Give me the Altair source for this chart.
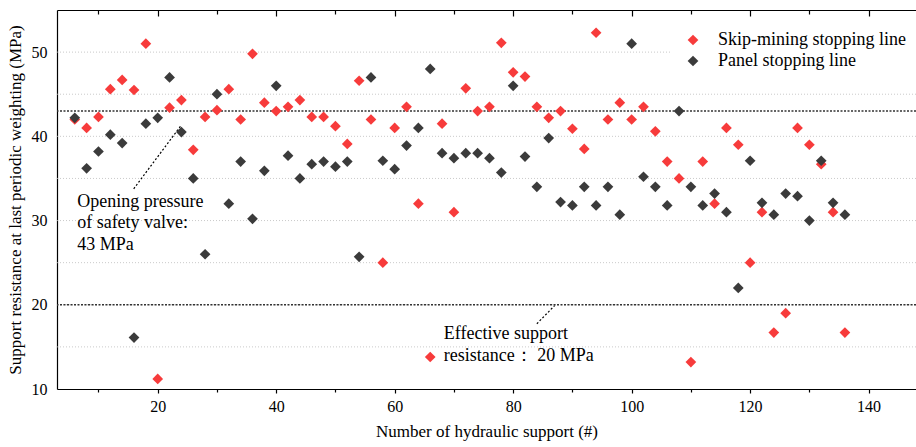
import altair as alt
import pandas as pd

# ---------------- data ----------------
support_no = list(range(6, 137, 2))
skip_mining = [42.0, 41.0, 42.3, 45.6, 46.7, 45.5, 51.0, 11.2, 43.4, 44.3,
               38.4, 42.3, 43.1, 45.6, 42.0, 49.8, 44.0, 43.0, 43.5, 44.3,
               42.3, 42.3, 41.2, 39.1, 46.6, 42.0, 25.0, 41.0, 43.5, 32.0,
               13.8, 41.5, 31.0, 45.7, 43.0, 43.5, 51.1, 47.6, 47.1, 43.5,
               42.2, 43.0, 40.9, 38.5, 52.3, 42.0, 44.0, 42.0, 43.5, 40.6,
               37.0, 35.0, 13.2, 37.0, 32.0, 41.0, 39.0, 25.0, 31.0, 16.7,
               19.0, 41.0, 39.0, 36.7, 31.0, 16.7]
panel = [42.2, 36.2, 38.2, 40.2, 39.2, 16.1, 41.5, 42.2, 47.0, 40.5,
         35.0, 26.0, 45.0, 32.0, 37.0, 30.2, 35.9, 46.0, 37.7, 35.0,
         36.7, 37.0, 36.4, 37.0, 25.7, 47.0, 37.1, 36.1, 38.9, 41.0,
         48.0, 38.0, 37.4, 38.0, 38.0, 37.4, 35.7, 46.0, 37.6, 34.0,
         39.8, 32.2, 31.8, 34.0, 31.8, 34.0, 30.7, 51.0, 35.2, 34.0,
         31.8, 43.0, 34.0, 31.8, 33.2, 31.0, 22.0, 37.1, 32.1, 30.7,
         33.2, 32.9, 30.0, 37.1, 32.1, 30.7]
series_names = ["Skip-mining stopping line", "Panel stopping line"]
series_colors = ["#F73B3B", "#3B3B3B"]

ref_levels = [43, 20]
grid_levels = [15, 20, 25, 30, 35, 40, 45, 50]
x_major = [20, 40, 60, 80, 100, 120, 140]
x_minor = [10, 30, 50, 70, 90, 110, 130]
y_major = [10, 20, 30, 40, 50]

ann_text = ["Opening pressure", "of safety valve:", "43 MPa",
            "Effective support", "resistance\uff1a  20 MPa"]
ann_x = [6.4, 6.4, 6.4, 68.3, 68.3]
ann_y = [31.64, 29.15, 26.55, 15.93, 13.28]

ptr_x = [15.95, 84.0]
ptr_x2 = [23.9, 87.0]
ptr_y = [33.77, 17.75]
ptr_y2 = [41.25, 19.9]

# ---------------- tables ----------------
pts = pd.DataFrame({
    "support": support_no + support_no,
    "value": skip_mining + panel,
    "series": [series_names[0]] * len(support_no) + [series_names[1]] * len(support_no),
})
grid_df = pd.DataFrame({"y": grid_levels})
ref_df = pd.DataFrame({"y": ref_levels})
ann_df = pd.DataFrame({"t": ann_text, "x": ann_x, "y": ann_y})
ptr_df = pd.DataFrame({"x": ptr_x, "x2": ptr_x2, "y": ptr_y, "y2": ptr_y2})

FONT = "'Liberation Serif', 'Times New Roman', Times, serif"
W, H = 859, 379
xs = alt.Scale(domain=[3, 148], nice=False, zero=False)
ys = alt.Scale(domain=[10, 55], nice=False, zero=False)

grid = alt.Chart(grid_df).mark_rule(color="#BDBDBD", strokeWidth=0.8, strokeDash=[1, 2]).encode(
    y=alt.Y("y:Q", scale=ys, axis=None))
refs = alt.Chart(ref_df).mark_rule(color="#333333", strokeWidth=1.4, strokeDash=[2, 1.5]).encode(
    y=alt.Y("y:Q", scale=ys, axis=None))

points = alt.Chart(pts).mark_point(shape="diamond", filled=True, size=115, opacity=1).encode(
    x=alt.X("support:Q", scale=xs, axis=alt.Axis(
        orient="bottom", values=x_major, format="d", labelFont=FONT, labelFontSize=16,
        labelColor="black", tickSize=4, tickColor="black", tickWidth=1.2, domainColor="black",
        domainWidth=1.2, labelPadding=5, grid=False, title="Number of hydraulic support (#)",
        titleFont=FONT, titleFontSize=17, titleFontWeight="normal", titleColor="black",
        titlePadding=9)),
    y=alt.Y("value:Q", scale=ys, axis=alt.Axis(
        orient="left", values=y_major, format="d", labelFont=FONT, labelFontSize=16,
        labelColor="black", ticks=False, labelPadding=10, domainColor="black", domainWidth=1.2,
        grid=False, title="Support resistance at last periodic weighting (MPa)", titleFont=FONT,
        titleFontSize=17, titleFontWeight="normal", titleColor="black", titlePadding=7)),
    color=alt.Color("series:N", scale=alt.Scale(domain=series_names, range=series_colors),
                    legend=alt.Legend(orient="none", legendX=615, legendY=9, title=None,
                                      fillColor="white", padding=12, symbolType="diamond",
                                      symbolSize=115, symbolStrokeWidth=0, labelFont=FONT,
                                      labelFontSize=18, labelColor="black", labelOffset=16,
                                      labelLimit=400, rowPadding=3)),
)


def axis_layer(axis):
    return alt.Chart(pts).mark_point(opacity=0).encode(
        x=alt.X("support:Q", scale=xs, axis=axis),
        y=alt.Y("value:Q", scale=ys, axis=None))


bottom_minor = axis_layer(alt.Axis(orient="bottom", values=x_minor, labels=False, tickSize=3,
                                   tickColor="black", tickWidth=1.2, domain=False, grid=False,
                                   title=None))
top_major = axis_layer(alt.Axis(orient="bottom", offset=-H, values=x_major, labels=False,
                                tickSize=6, tickColor="black", tickWidth=1.2, domainColor="black",
                                domainWidth=1.2, grid=False, title=None))
top_minor = axis_layer(alt.Axis(orient="bottom", offset=-H, values=x_minor, labels=False,
                                tickSize=4, tickColor="black", tickWidth=1.2, domain=False,
                                grid=False, title=None))

ann = alt.Chart(ann_df).mark_text(align="left", baseline="alphabetic", font=FONT, fontSize=18,
                                  color="black").encode(
    x=alt.X("x:Q", scale=xs, axis=None), y=alt.Y("y:Q", scale=ys, axis=None), text="t:N")
ptr = alt.Chart(ptr_df).mark_rule(color="black", strokeWidth=1.2, strokeDash=[2, 2]).encode(
    x=alt.X("x:Q", scale=xs, axis=None), x2="x2:Q",
    y=alt.Y("y:Q", scale=ys, axis=None), y2="y2:Q")

chart = alt.layer(grid, refs, ptr, ann, bottom_minor, top_major, top_minor, points).resolve_axis(
    x="independent", y="independent"
).properties(
    width=W, height=H,
    autosize=alt.AutoSizeParams(type="none"),
    padding={"left": 57, "top": 10, "right": 0, "bottom": 58},
).configure(
    background="white", font=FONT
).configure_view(
    stroke=None
)

chart.save("out.html", embed_options={"renderer": "svg", "actions": False})
